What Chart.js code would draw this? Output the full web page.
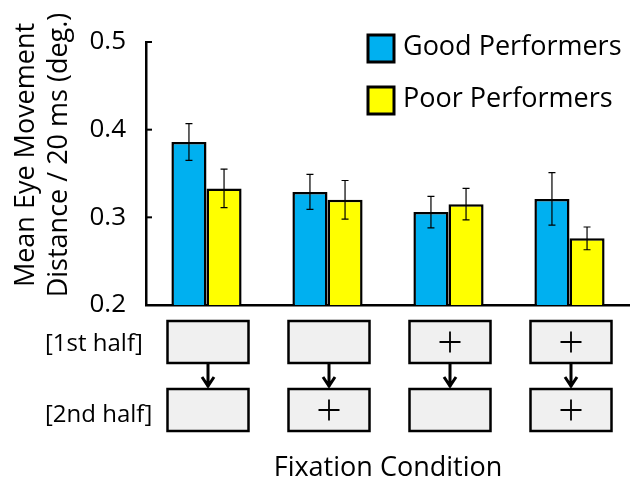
<!DOCTYPE html>
<html>
<head>
<meta charset="utf-8">
<script src="https://cdn.jsdelivr.net/npm/chart.js@4"></script>
<style>
  html, body { margin: 0; padding: 0; background: #fff; }
  #wrap { width: 630px; height: 484px; }
</style>
</head>
<body>
<div id="wrap"><canvas id="chart" width="630" height="484"></canvas></div>
<script>
const conditions = ['A', 'B', 'C', 'D'];
const goodMeans = [0.386, 0.329, 0.306, 0.321];
const goodErrors = [0.021, 0.020, 0.018, 0.030];
const poorMeans = [0.333, 0.320, 0.315, 0.276];
const poorErrors = [0.022, 0.022, 0.018, 0.013];
const firstHalf = ['', '', '+', '+'];
const secondHalf = ['', '+', '', '+'];
const yTicks = [0.2, 0.3, 0.4, 0.5];

const FONT = "'Open Sans', sans-serif";

const errorBars = {
    id: 'errorBars',
    afterDatasetsDraw(chart) {
        const ctx = chart.ctx;
        const y = chart.scales.y;
        ctx.save();
        ctx.strokeStyle = '#000';
        ctx.lineWidth = 1.2;
        chart.data.datasets.forEach((ds, i) => {
            const meta = chart.getDatasetMeta(i);
            meta.data.forEach((bar, j) => {
                const top = y.getPixelForValue(ds.data[j] + ds.errors[j]);
                const bot = y.getPixelForValue(ds.data[j] - ds.errors[j]);
                ctx.beginPath();
                ctx.moveTo(bar.x, top); ctx.lineTo(bar.x, bot);
                ctx.moveTo(bar.x - 3.5, top); ctx.lineTo(bar.x + 3.5, top);
                ctx.moveTo(bar.x - 3.5, bot); ctx.lineTo(bar.x + 3.5, bot);
                ctx.stroke();
            });
        });
        ctx.restore();
    }
};

const decorations = {
    id: 'decorations',
    afterDraw(chart) {
        const ctx = chart.ctx;
        const x = chart.scales.x;
        const y = chart.scales.y;
        const area = chart.chartArea;
        ctx.save();

        // inward ticks on the y axis
        ctx.strokeStyle = '#000';
        ctx.lineWidth = 2;
        yTicks.forEach(v => {
            const py = y.getPixelForValue(v);
            ctx.beginPath();
            ctx.moveTo(area.left, py);
            ctx.lineTo(area.left + 6, py);
            ctx.stroke();
        });

        // y axis title
        ctx.fillStyle = '#000';
        ctx.font = '27px ' + FONT;
        ctx.textAlign = 'center';
        ctx.textBaseline = 'middle';
        ctx.translate(26, 155);
        ctx.rotate(-Math.PI / 2);
        ctx.fillText('Mean Eye Movement', 0, 0);
        ctx.fillText('Distance / 20 ms (deg.)', 0, 33);
        ctx.setTransform(1, 0, 0, 1, 0, 0);

        // legend
        chart.data.datasets.forEach((ds, i) => {
            const by = 35 + i * 52;
            ctx.fillStyle = ds.backgroundColor;
            ctx.fillRect(368, by, 26, 27);
            ctx.lineWidth = 3;
            ctx.strokeStyle = '#000';
            ctx.strokeRect(368, by, 26, 27);
            ctx.fillStyle = '#000';
            ctx.font = '27px ' + FONT;
            ctx.textAlign = 'left';
            ctx.textBaseline = 'middle';
            ctx.fillText(ds.label, 403, by + 12);
        });

        // condition boxes
        const rowTop = [321, 389];
        const boxH = 42, boxW = 81;
        ctx.font = '24px ' + FONT;
        ctx.textAlign = 'left';
        ctx.fillText('[1st half]', 45, rowTop[0] + 23);
        ctx.fillText('[2nd half]', 45, rowTop[1] + 26);

        conditions.forEach((c, i) => {
            const cx = x.getPixelForValue(i) + 1.5;
            [firstHalf[i], secondHalf[i]].forEach((mark, r) => {
                const bx = cx - boxW / 2, by = rowTop[r];
                ctx.fillStyle = '#f0f0f0';
                ctx.fillRect(bx, by, boxW, boxH);
                ctx.strokeStyle = '#000';
                ctx.lineWidth = 2.5;
                ctx.strokeRect(bx, by, boxW, boxH);
                if (mark === '+') {
                    ctx.lineWidth = 1.8;
                    ctx.beginPath();
                    ctx.moveTo(cx - 10.5, by + boxH / 2); ctx.lineTo(cx + 10.5, by + boxH / 2);
                    ctx.moveTo(cx, by + boxH / 2 - 10.5); ctx.lineTo(cx, by + boxH / 2 + 10.5);
                    ctx.stroke();
                }
            });
            // arrow
            ctx.strokeStyle = '#000';
            ctx.lineWidth = 3;
            ctx.beginPath();
            ctx.moveTo(cx, rowTop[0] + boxH + 1);
            ctx.lineTo(cx, rowTop[1] - 2);
            ctx.moveTo(cx - 6, rowTop[1] - 12);
            ctx.lineTo(cx, rowTop[1] - 3);
            ctx.lineTo(cx + 6, rowTop[1] - 12);
            ctx.stroke();
        });

        // x axis title
        ctx.fillStyle = '#000';
        ctx.font = '27px ' + FONT;
        ctx.textAlign = 'center';
        ctx.textBaseline = 'middle';
        ctx.fillText('Fixation Condition', 388, 468);
        ctx.restore();
    }
};

new Chart(document.getElementById('chart'), {
    type: 'bar',
    data: {
        labels: conditions,
        datasets: [
            {
                label: 'Good Performers',
                data: goodMeans,
                errors: goodErrors,
                backgroundColor: '#00b0f0',
                borderColor: '#000',
                borderWidth: 2.5,
                borderSkipped: false
            },
            {
                label: 'Poor Performers',
                data: poorMeans,
                errors: poorErrors,
                backgroundColor: '#ffff00',
                borderColor: '#000',
                borderWidth: 2.5,
                borderSkipped: false
            }
        ]
    },
    options: {
        responsive: false,
        animation: false,
        layout: { padding: { top: 42, right: 0, bottom: 0, left: 0 } },
        datasets: { bar: { categoryPercentage: 0.58, barPercentage: 1 } },
        plugins: { legend: { display: false }, tooltip: { enabled: false } },
        scales: {
            x: {
                grid: { display: false },
                border: { color: '#000', width: 2.5 },
                ticks: { display: false },
                afterFit: (s) => { s.height = 179; }
            },
            y: {
                min: 0.2,
                max: 0.5,
                grid: { display: false },
                border: { color: '#000', width: 2.5 },
                ticks: {
                    stepSize: 0.1,
                    color: '#000',
                    padding: 12,
                    font: { family: FONT, size: 26 },
                    callback: (v) => v.toFixed(1)
                },
                afterFit: (s) => { s.width = 146; }
            }
        }
    },
    plugins: [errorBars, decorations]
});
</script>
</body>
</html>
